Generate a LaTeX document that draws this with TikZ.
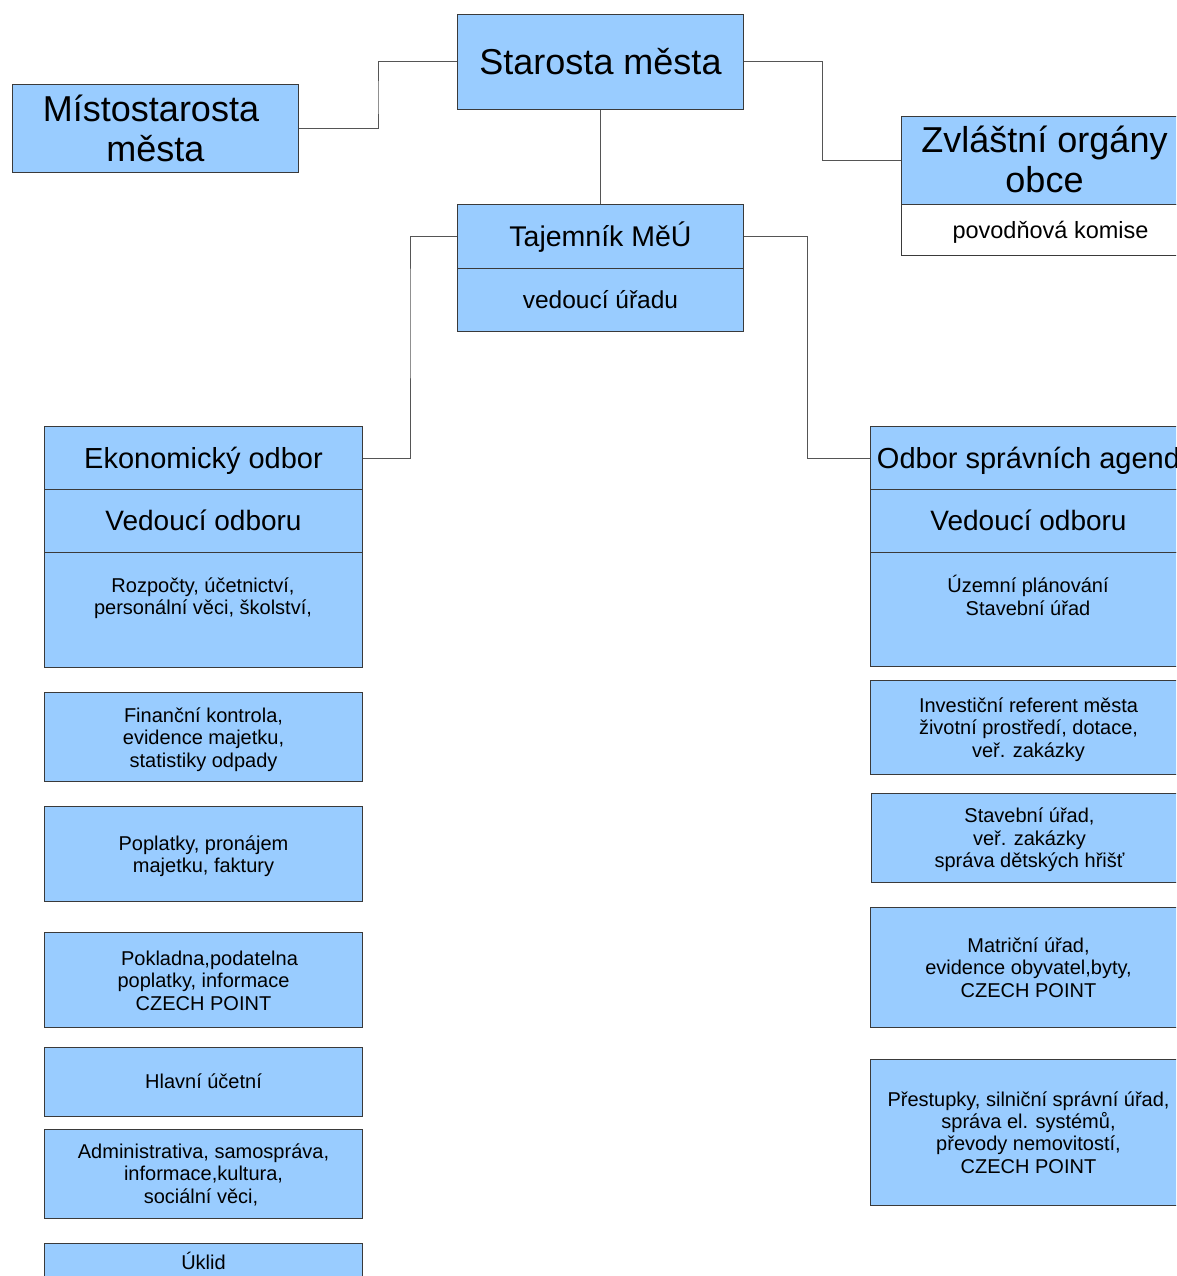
\documentclass[tikz,border=0pt]{standalone}
\usepackage{fontspec}
\setmainfont{Liberation Sans}
\definecolor{boxblue}{HTML}{99CCFF}
\definecolor{edgecol}{HTML}{3A3A3A}
\definecolor{linkcol}{HTML}{555555}
\newcommand\szA{\fontsize{36}{40.3}\selectfont}
\newcommand\szB{\fontsize{28}{31.4}\selectfont}
\newcommand\szBB{\fontsize{29}{32.5}\selectfont}
\newcommand\szT{\fontsize{28.5}{32}\selectfont}
\newcommand\szC{\fontsize{24.5}{27.5}\selectfont}
\newcommand\szCC{\fontsize{23.5}{26.3}\selectfont}
\newcommand\szD{\fontsize{20}{22.4}\selectfont}
\newcommand\lostrut{\vrule width 0pt height 0.905em depth 0.212em\relax}
\tikzset{
  box/.style={draw=edgecol, fill=boxblue, line width=1pt, inner sep=0pt,
    anchor=north west, align=center, text=black,
    execute at begin node=\lostrut, execute at end node=\lostrut},
  wbox/.style={box, fill=white},
  txt/.style={inner sep=0pt, align=center, font=\szD, text=black,
    execute at begin node=\lostrut, execute at end node=\lostrut},
  link/.style={draw=linkcol, line width=1pt},
}
\begin{document}
\begin{tikzpicture}[x=1pt,y=-1pt]
\path[use as bounding box, fill=white] (0,0) rectangle (1176,1276);
\clip (0,0) rectangle (1176,1276);

% top level
\node[box, minimum width=286pt, minimum height=95pt, font=\szA] (sta) at (457,14) {Starosta města};
\node[box, minimum width=286pt, minimum height=88pt] (mis) at (12,84) {};
\node[txt, font=\szA] (mist) at ([yshift=-3.5pt]mis.center) {Místostarosta\kern9pt\\města};
\node[box, minimum width=286pt, minimum height=88pt] (zvl) at (901,116) {};
\node[txt, font=\szA] (zvlt) at ([yshift=-2.5pt]zvl.center) {Zvláštní orgány\\obce};
\node[wbox, minimum width=286pt, minimum height=51pt] (zvlb) at (901,204) {};
\node[txt, font=\szCC] (zvlbt) at ([xshift=6pt]zvlb.center) {povodňová komise};

% secretary
\node[box, minimum width=286pt, minimum height=64pt, font=\szT] (taj) at (457,204) {Tajemník MěÚ};
\node[box, minimum width=286pt, minimum height=63pt, font=\szC] (tajb) at (457,268) {vedoucí úřadu};

% left department
\node[box, minimum width=318pt, minimum height=63pt, font=\szBB] (eko) at (44,426) {Ekonomický odbor};
\node[box, minimum width=318pt, minimum height=63pt, font=\szB] (ekov) at (44,489) {Vedoucí odboru};
\node[box, minimum width=318pt, minimum height=115pt] (ekoc) at (44,552) {};
\node[txt] (ekot) at (203,598) {Rozpočty, účetnictví,\\personální věci, školství,};
\node[box, minimum width=318pt, minimum height=89pt] (l1) at (44,692) {};
\node[txt] (l1t) at ([yshift=-2.5pt]l1.center) {Finanční kontrola,\\evidence majetku,\\statistiky odpady};
\node[box, minimum width=318pt, minimum height=95pt] (l2) at (44,806) {};
\node[txt] (l2t) at ([yshift=-2pt]l2.center) {Poplatky, pronájem\\majetku, faktury};
\node[box, minimum width=318pt, minimum height=95pt] (l3) at (44,932) {};
\node[txt] (l3t) at ([yshift=-2.5pt]l3.center) {\kern12pt Pokladna,podatelna\\poplatky, informace\\CZECH POINT};
\node[box, minimum width=318pt, minimum height=69pt, font=\szD] (l4) at (44,1047) {Hlavní účetní};
\node[box, minimum width=318pt, minimum height=89pt] (l5) at (44,1129) {};
\node[txt] (l5t) at ([yshift=-1.5pt]l5.center) {Administrativa, samospráva,\\informace,kultura,\\sociální věci,\kern5pt};
\node[box, minimum width=318pt, minimum height=38pt, font=\szD] (l6) at (44,1243) {Úklid};

% right department
\node[box, minimum width=316pt, minimum height=63pt, font=\szBB] (odb) at (870,426) {Odbor správních agend};
\node[box, minimum width=316pt, minimum height=63pt, font=\szB] (odbv) at (870,489) {Vedoucí odboru};
\node[box, minimum width=316pt, minimum height=114pt] (odbc) at (870,552) {};
\node[txt] (odbt) at (1028,597.5) {Územní plánování\\Stavební úřad};
\node[box, minimum width=316pt, minimum height=94pt] (r1) at (870,680) {};
\node[txt] (r1t) at ([yshift=-2pt]r1.center) {Investiční referent města\\životní prostředí, dotace,\\veř. zakázky};
\node[box, minimum width=316pt, minimum height=89pt] (r2) at (871,793) {};
\node[txt] (r2t) at ([yshift=-2pt]r2.center) {Stavební úřad,\\veř. zakázky\\správa dětských hřišť};
\node[box, minimum width=316pt, minimum height=120pt] (r3) at (870,907) {};
\node[txt] (r3t) at ([yshift=-2pt]r3.center) {Matriční úřad,\\evidence obyvatel,byty,\\CZECH POINT};
\node[box, minimum width=316pt, minimum height=146pt] (r4) at (870,1059) {};
\node[txt] (r4t) at ([yshift=-2pt]r4.center) {Přestupky, silniční správní úřad,\\správa el. systémů,\\převody nemovitostí,\\CZECH POINT};

% connectors
\coordinate (k1) at (378,100);
\coordinate (k2) at (822,100);
\coordinate (k3) at (410,300);
\coordinate (k4) at (807,300);
\draw[link] (sta.west) -| (k1) |- (mis.east);
\draw[link] (sta.east) -| (k2) |- (zvl.west);
\draw[link] (sta.south) -- (taj.north);
\draw[link] (taj.west) -| (k3) |- (eko.east);
\draw[link] (taj.east) -| (k4) |- (odb.west);
\end{tikzpicture}
\end{document}
